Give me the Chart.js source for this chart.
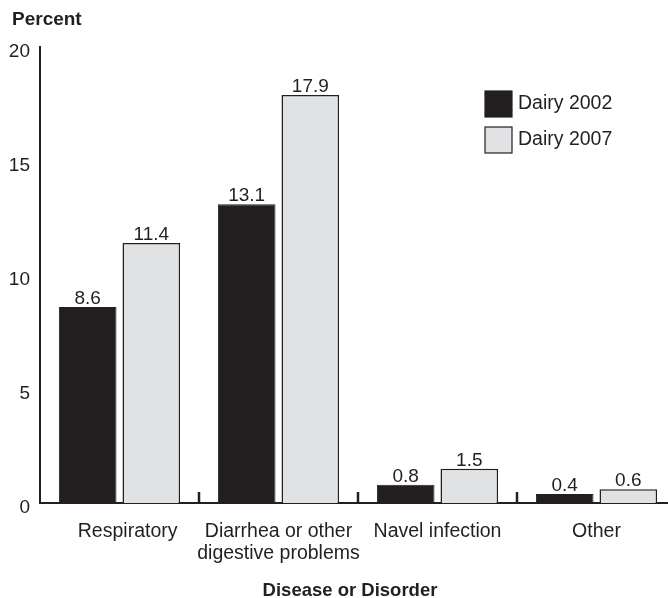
<!DOCTYPE html>
<html>
<head>
<meta charset="utf-8">
<script src="https://cdn.jsdelivr.net/npm/chart.js@4.4.1/dist/chart.umd.min.js"></script>
<style>
  html, body { margin: 0; padding: 0; background: #fff; overflow: hidden; }
  #wrap { width: 680px; height: 598px; }
</style>
</head>
<body>
<div id="wrap"><canvas id="chart"></canvas></div>
<script>
const categories = [
  "   Respiratory",
  ["Diarrhea or other", "digestive problems"],
  "Navel infection",
  "Other"
];
const dairy2002 = [8.6, 13.1, 0.8, 0.4];
const dairy2007 = [11.4, 17.9, 1.5, 0.6];
const yTicks = [0, 5, 10, 15, 20];

const INK = "#231f20";
const LIGHT = "#e1e2e4";
const FONT = "'Liberation Sans', Arial, Helvetica, sans-serif";

// extra drawing: inside ticks, value labels, legend, axis titles, y labels
const extras = {
  id: "extras",
  afterDatasetsDraw(chart) {
    const { ctx, chartArea, scales } = chart;
    const x = scales.x;
    const y = scales.y;
    ctx.save();

    // short tick marks between categories, pointing up into the plot
    ctx.strokeStyle = INK;
    ctx.lineWidth = 2.5;
    for (let i = 1; i <= categories.length; i++) {
      const px = x.getPixelForValue(i - 0.5);
      ctx.beginPath();
      ctx.moveTo(px, chartArea.bottom);
      ctx.lineTo(px, chartArea.bottom - 11);
      ctx.stroke();
    }

    // y tick labels (sit a little below their values, like the original)
    ctx.fillStyle = INK;
    ctx.font = "19px " + FONT;
    ctx.textAlign = "right";
    ctx.textBaseline = "middle";
    yTicks.forEach(v => ctx.fillText(String(v), 30, y.getPixelForValue(v) + 5));

    // value labels above bars
    ctx.font = "19px " + FONT;
    ctx.textAlign = "center";
    ctx.textBaseline = "alphabetic";
    chart.data.datasets.forEach((ds, di) => {
      chart.getDatasetMeta(di).data.forEach((bar, i) => {
        ctx.fillText(ds.data[i].toFixed(1), bar.x, bar.y - 3);
      });
    });

    // legend
    ctx.textAlign = "left";
    ctx.textBaseline = "middle";
    ctx.font = "19.5px " + FONT;
    chart.data.datasets.forEach((ds, di) => {
      const top = 91 + di * 36;
      ctx.fillStyle = ds.backgroundColor;
      ctx.fillRect(485, top, 27, 26);
      ctx.lineWidth = 1.2;
      ctx.strokeStyle = INK;
      ctx.strokeRect(485, top, 27, 26);
      ctx.fillStyle = INK;
      ctx.fillText(ds.label, 518, top + 13);
    });

    // axis titles
    ctx.font = "bold 19px " + FONT;
    ctx.textBaseline = "alphabetic";
    ctx.fillText("Percent", 12, 25);
    ctx.textAlign = "center";
    ctx.font = "bold 18.5px " + FONT;
    ctx.fillText("Disease or Disorder", 350, 596);
    ctx.restore();
  }
};

new Chart(document.getElementById("chart"), {
  type: "bar",
  data: {
    labels: categories,
    datasets: [
      {
        label: "Dairy 2002",
        data: dairy2002,
        backgroundColor: INK,
        borderColor: INK,
        borderWidth: 1
      },
      {
        label: "Dairy 2007",
        data: dairy2007,
        backgroundColor: LIGHT,
        borderColor: INK,
        borderWidth: 1.5
      }
    ]
  },
  options: {
    responsive: true,
    maintainAspectRatio: false,
    animation: false,
    layout: { padding: { top: 47, right: 4, left: 0, bottom: 0 } },
    categoryPercentage: 0.8,
    barPercentage: 0.906,
    plugins: {
      legend: { display: false },
      tooltip: { enabled: false }
    },
    scales: {
      x: {
        grid: { display: false, drawTicks: false },
        border: { color: INK, width: 2 },
        ticks: {
          color: INK,
          padding: 18,
          maxRotation: 0,
          autoSkip: false,
          font: { family: FONT, size: 19.5, lineHeight: 1.13 }
        },
        afterFit(scale) { scale.height = 95; }
      },
      y: {
        min: 0,
        max: 20,
        grid: { display: false, drawTicks: false },
        border: { color: INK, width: 2 },
        afterBuildTicks(scale) { scale.ticks = yTicks.map(v => ({ value: v })); },
        ticks: { display: false },
        afterFit(scale) { scale.width = 40; }
      }
    }
  },
  plugins: [extras]
});
</script>
</body>
</html>
